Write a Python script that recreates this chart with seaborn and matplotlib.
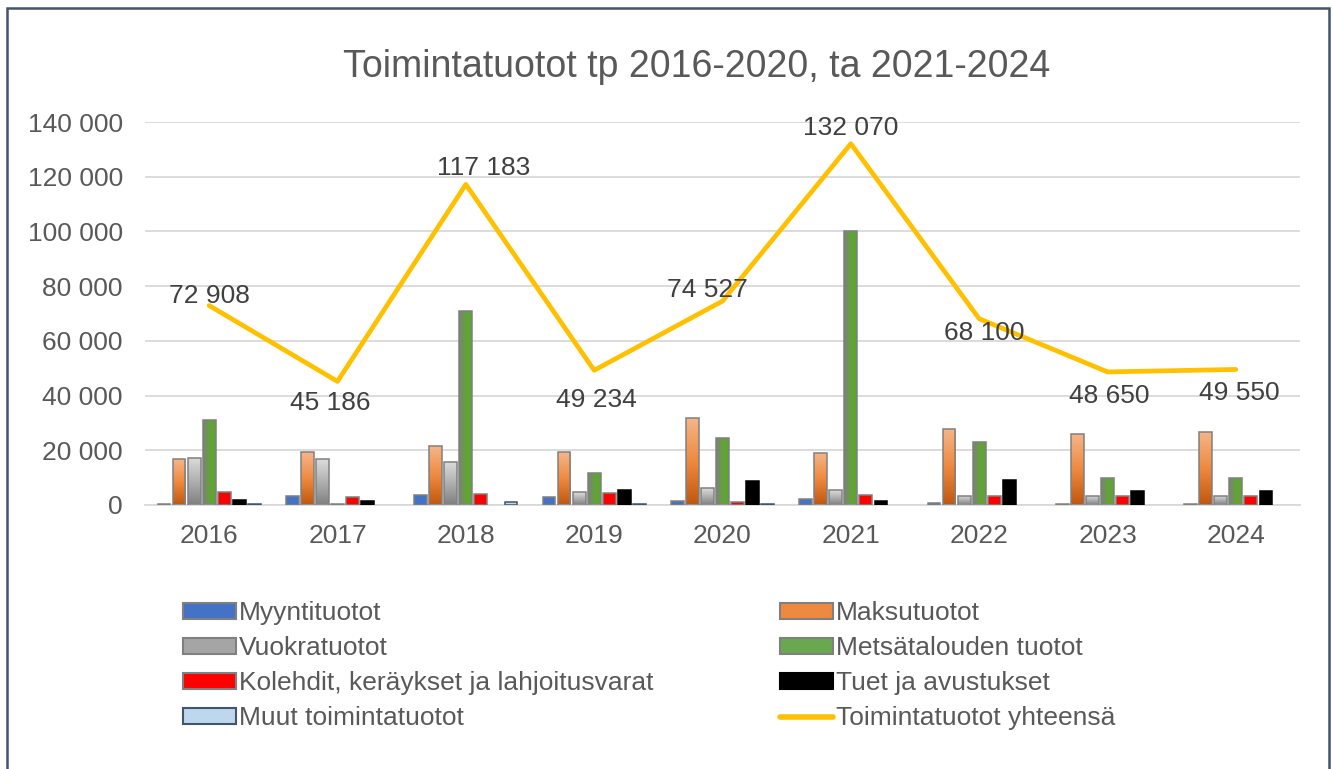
import numpy as np
import pandas as pd
import matplotlib
matplotlib.use('Agg')
import matplotlib.pyplot as plt
import seaborn as sns
from matplotlib.patches import Rectangle, Patch
from matplotlib.lines import Line2D
from matplotlib.colors import LinearSegmentedColormap

# ---------------- data ----------------
years = ['2016', '2017', '2018', '2019', '2020', '2021', '2022', '2023', '2024']
series_names = ['Myyntituotot', 'Maksutuotot', 'Vuokratuotot', 'Metsätalouden tuotot',
                'Kolehdit, keräykset ja lahjoitusvarat', 'Tuet ja avustukset',
                'Muut toimintatuotot']
myynti = [200, 3400, 3500, 2800, 1600, 2100, 600, 300, 500]
maksu = [16700, 19300, 21500, 19300, 31900, 19100, 27800, 26000, 26700]
vuokra = [17300, 16700, 15800, 4600, 6100, 5400, 3400, 3400, 3400]
metsa = [31100, 300, 70900, 11600, 24600, 100000, 22900, 9900, 9900]
kolehdit = [4900, 3000, 3900, 4500, 1000, 3500, 3400, 3400, 3400]
tuet = [1800, 1500, 0, 5500, 8800, 1500, 9000, 5000, 5000]
muut = [300, 0, 1000, 500, 300, 0, 0, 0, 0]
total_name = 'Toimintatuotot yhteensä'
totals = [72908, 45186, 117183, 49234, 74527, 132070, 68100, 48650, 49550]
title = 'Toimintatuotot tp 2016-2020, ta 2021-2024'
yticks = [0, 20000, 40000, 60000, 80000, 100000, 120000, 140000]

series_values = [myynti, maksu, vuokra, metsa, kolehdit, tuet, muut]
df = pd.DataFrame([
    {'Vuosi': y, 'Sarja': s, 'Arvo': v}
    for s, vals in zip(series_names, series_values)
    for y, v in zip(years, vals)
])

# ---------------- styles ----------------
label_offsets = [(0, 10), (-7, -22), (18, 16), (2, -30), (-15, 11), (0, 16), (5, -14), (2, -24), (3, -24)]
solid_colors = ['#4472C4', '#ED7D31', '#A5A5A5', '#6AA84F', '#FF0000', '#000000', '#BDD7EE']
edge_colors = ['#808080', '#808080', '#808080', '#808080', '#808080', '#000000', '#44546A']
gradients = {1: (['#F6B68A', '#EE8A3F', '#C0560F'], 'v'),
             2: (['#DCDCDC', '#B0B0B0', '#7F7F7F'], 'v'),
             3: (['#7F7F7F', '#63A33A', '#5FA532'], 'h')}
text_gray = '#595959'

sns.set_theme(style='white')
plt.rcParams['font.family'] = ['Liberation Sans', 'DejaVu Sans']

fig = plt.figure(figsize=(13.33, 7.69), dpi=100)
ax = fig.add_axes([145 / 1333, 1 - 505 / 769, (1300 - 145) / 1333, (505 - 122) / 769])

sns.barplot(data=df, x='Vuosi', y='Arvo', hue='Sarja', order=years, hue_order=series_names,
            palette=solid_colors, width=0.82, gap=0.15, legend=False, ax=ax,
            edgecolor='#808080', linewidth=1.1, saturation=1)

for i, cont in enumerate(ax.containers):
    for p in cont.patches:
        p.set_edgecolor(edge_colors[i])
        p.set_zorder(3)
        h = p.get_height()
        if h <= 0:
            p.set_visible(False)
            continue
        if i in gradients:
            cols, direction = gradients[i]
            cmap = LinearSegmentedColormap.from_list('g%d' % i, cols)
            if direction == 'v':
                grad = np.linspace(0, 1, 256).reshape(-1, 1)
            else:
                grad = np.linspace(0, 1, 256).reshape(1, -1)
            x0, w, y0 = p.get_x(), p.get_width(), p.get_y()
            im = ax.imshow(grad, cmap=cmap, extent=(x0, x0 + w, y0, y0 + h), aspect='auto',
                           origin='upper', zorder=2.5, interpolation='bilinear')
            im.set_clip_path(p)
            p.set_facecolor('none')

sns.lineplot(x=np.arange(len(years)), y=totals, color='#FFC000', linewidth=3.4, ax=ax, zorder=4)

for i, v in enumerate(totals):
    dx, dy = label_offsets[i]
    ax.annotate(f'{v:,}'.replace(',', ' '), (i, v), xytext=(dx, dy), textcoords='offset pixels',
                ha='center', va='center', fontsize=19, color='#404040', zorder=5)

ax.set_xlim(-0.5, len(years) - 0.5)
ax.set_ylim(0, 140000)
ax.set_yticks(yticks)
ax.set_yticklabels([f'{t:,}'.replace(',', ' ') for t in yticks])
ax.set_xticks(range(len(years)))
ax.set_xticklabels(years)
ax.tick_params(axis='both', length=0, labelsize=19, labelcolor=text_gray)
ax.tick_params(axis='y', pad=16)
ax.tick_params(axis='x', pad=14)
ax.set_xlabel('')
ax.set_ylabel('')
ax.grid(axis='y', color='#D9D9D9', linewidth=1.3, zorder=0)
ax.set_axisbelow(True)
for s in ['left', 'right', 'top']:
    ax.spines[s].set_visible(False)
ax.spines['bottom'].set_color('#D9D9D9')
ax.spines['bottom'].set_linewidth(1.3)

fig.text(697 / 1333, 1 - 67 / 769, title, ha='center', va='center', fontsize=27, color=text_gray)

# legend
def ph(c, e):
    return Patch(facecolor=c, edgecolor=e, linewidth=1.5)

left_handles = [ph('#4472C4', '#808080'), ph('#A5A5A5', '#808080'), ph('#FF0000', '#808080'),
                ph('#BDD7EE', '#44546A')]
left_labels = [series_names[0], series_names[2], series_names[4], series_names[6]]
right_handles = [ph('#EE8A3F', '#808080'), ph('#6AA84F', '#808080'), ph('#000000', '#000000'),
                 Line2D([], [], color='#FFC000', linewidth=4)]
right_labels = [series_names[1], series_names[3], series_names[5], total_name]

common = dict(loc='upper left', frameon=False, fontsize=19, borderpad=0, borderaxespad=0,
              handlelength=2.0, handleheight=0.55, handletextpad=0.12, labelspacing=0.42,
              labelcolor=text_gray)
leg1 = fig.legend(left_handles, left_labels, bbox_to_anchor=(183 / 1333, 1 - 601 / 769), **common)
leg2 = fig.legend(right_handles, right_labels, bbox_to_anchor=(780 / 1333, 1 - 601 / 769), **common)

fig.patches.append(Rectangle((7 / 1333, -0.05), (1329 - 7) / 1333, 1.05 - 8 / 769,
                             transform=fig.transFigure, fill=False, edgecolor='#44546A',
                             linewidth=1.8))

fig.savefig('out.png', dpi=100)
